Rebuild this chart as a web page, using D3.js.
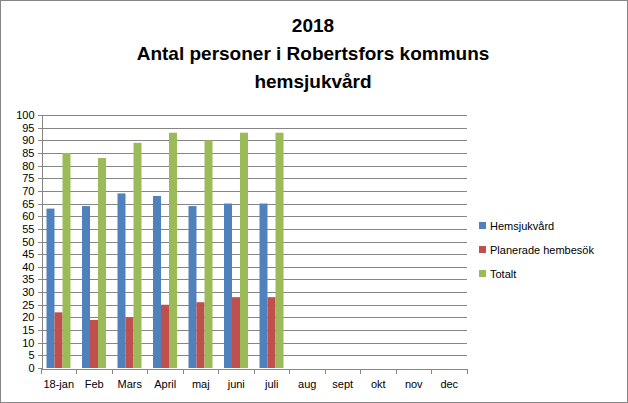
<!DOCTYPE html>
<head>
  <meta charset="utf-8">
  <script src="https://d3js.org/d3.v7.min.js"></script>
  <style>
    body { margin: 0; font-family: "Liberation Sans", sans-serif; background: #fff; }
    .grid line { stroke: #868686; stroke-width: 1px; shape-rendering: crispEdges; }
    .axis text { font-size: 11px; fill: #000; }
    .axis path, .axis line { stroke: #868686; shape-rendering: crispEdges; }
  </style>
</head>
<body>
  <script>
    var months = ["18-jan", "Feb", "Mars", "April", "maj", "juni", "juli", "aug", "sept", "okt", "nov", "dec"];
    var seriesNames = ["Hemsjukvård", "Planerade hembesök", "Totalt"];
    var colors = ["#4f81bd", "#c0504d", "#9bbb59"];
    var hemsjukvard = [63, 64, 69, 68, 64, 65, 65];
    var planerade = [22, 19, 20, 25, 26, 28, 28];
    var totalt = [85, 83, 89, 93, 90, 93, 93];
    var yTicks = d3.range(0, 101, 5);
    var titleLines = ["2018", "Antal personer i Robertsfors kommuns", "hemsjukvård"];

    var W = 628, H = 403;
    var svg = d3.select("body").append("svg").attr("width", W).attr("height", H);

    svg.append("rect").attr("x", 0.5).attr("y", 0.5).attr("width", W - 1).attr("height", H - 1)
      .attr("fill", "#fff").attr("stroke", "#868686");

    svg.selectAll(".title").data(titleLines).enter().append("text")
      .attr("x", 313).attr("y", function(d, i) { return 32 + i * 28; })
      .attr("text-anchor", "middle").attr("font-weight", "bold").attr("font-size", "19px")
      .text(function(d) { return d; });

    // plot area (avoid the name "top", it clashes with window.top)
    var pLeft = 41, pRight = 467, pTop = 115, pBottom = 368;

    var x = d3.scaleBand().domain(months).range([pLeft, pRight]);
    var y = d3.scaleLinear().domain([0, 100]).range([pBottom, pTop]);
    var x1 = d3.scaleBand().domain([0, 1, 2]).range([0, 24]);

    svg.append("g").attr("class", "grid").selectAll("line").data(yTicks.slice(1)).enter().append("line")
      .attr("x1", pLeft).attr("x2", pRight)
      .attr("y1", function(d) { return Math.round(y(d)) + 0.5; })
      .attr("y2", function(d) { return Math.round(y(d)) + 0.5; });

    var data = [hemsjukvard, planerade, totalt];
    data.forEach(function(vals, s) {
      svg.append("g").selectAll("rect").data(vals).enter().append("rect")
        .attr("x", function(d, i) { return x(months[i]) + 5.5 + x1(s); })
        .attr("width", x1.bandwidth())
        .attr("y", function(d) { return y(d); })
        .attr("height", function(d) { return pBottom - y(d); })
        .attr("fill", colors[s]);
    });

    svg.append("g").attr("class", "axis")
      .attr("transform", "translate(" + (pLeft + 0.5) + ",0)")
      .call(d3.axisLeft(y).tickValues(yTicks).tickSize(4).tickPadding(3));

    var xAxis = svg.append("g").attr("class", "axis")
      .attr("transform", "translate(0," + (pBottom + 0.5) + ")")
      .call(d3.axisBottom(x).tickSize(0).tickPadding(12));
    xAxis.selectAll(".tick").append("line")
      .attr("x1", -x.bandwidth() / 2).attr("x2", -x.bandwidth() / 2)
      .attr("y1", 0).attr("y2", 5).attr("stroke", "#868686");
    xAxis.append("line").attr("x1", pRight).attr("x2", pRight).attr("y1", 0).attr("y2", 5).attr("stroke", "#868686");

    var legend = svg.append("g").selectAll("g").data(seriesNames).enter().append("g")
      .attr("transform", function(d, i) { return "translate(479," + (226 + i * 24) + ")"; });
    legend.append("rect").attr("x", 0).attr("y", -4).attr("width", 7).attr("height", 7)
      .attr("fill", function(d, i) { return colors[i]; });
    legend.append("text").attr("x", 11).attr("y", 4).attr("font-size", "11px")
      .text(function(d) { return d; });
  </script>
</body>
